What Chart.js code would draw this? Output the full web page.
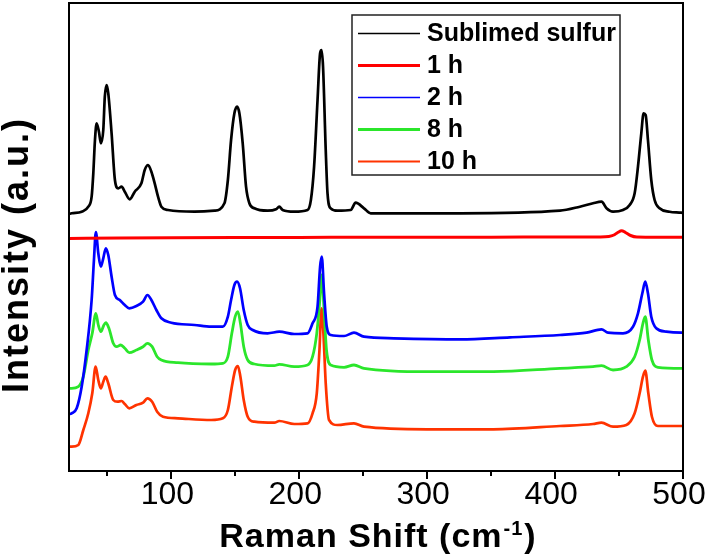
<!DOCTYPE html>
<html>
<head>
<meta charset="utf-8">
<script src="https://cdn.jsdelivr.net/npm/chart.js@4"></script>
<style>
html,body{margin:0;padding:0;background:#ffffff;}
#wrap{width:706px;height:556px;position:relative;}
</style>
</head>
<body>
<div id="wrap"><canvas id="c" width="706" height="556"></canvas></div>
<script>
// ---- data ----
const xTickValues = [100, 200, 300, 400, 500];
const xMinorTickValues = [50, 150, 250, 350, 450];
const xTitleText = 'Raman Shift (cm';
const xTitleSup = '-1';
const xTitleClose = ')';
const yTitleText = 'Intensity (a.u.)';
const seriesNames = ['Sublimed sulfur', '1 h', '2 h', '8 h', '10 h'];

const sulfur = [[20,259],[22.1,259.7],[29.9,261.3],[35.1,266.3],[37.7,276.3],[39.0,299.7],[40.3,333],[41.6,349.7],[43.4,341.3],[44.9,329.7],[46.8,343],[48.0,376.3],[49.4,388],[50.7,379.7],[53.3,339.7],[55.9,293],[58.5,284.7],[61.1,286.3],[63.6,281.3],[67.5,273.7],[71.4,281.3],[76.6,289.7],[79.2,303],[81.8,308],[84.4,301.3],[87.0,289.7],[89.6,276.3],[92.2,266.3],[97.4,263],[118.2,261.3],[133.7,262.3],[141.5,269.7],[144.2,293],[146.7,333],[149.3,359.7],[151.4,366.3],[153.2,359.7],[155.8,329.7],[158.4,286.3],[161.0,269.7],[164.9,264.7],[175.3,262.3],[181.8,263.7],[184.4,266.3],[187.0,263],[196.1,261.3],[206.5,263],[209.1,273],[211.6,306.3],[214.3,373],[216.3,419.7],[217.4,423],[218.6,406.3],[220.7,323],[222.1,279.7],[224.6,264.7],[229.8,262.3],[240.2,263],[244.1,270.3],[250.6,264.7],[255.8,259.7],[325.9,259.7],[403.8,262.3],[419.4,266.3],[429.7,269.7],[436.3,271.3],[440.2,264.7],[445.3,261.3],[453.1,263],[458.3,268],[462.2,279.7],[464.8,306.3],[467.4,339.7],[469.2,359.7],[470.8,358],[472.6,333],[475.2,293],[477.8,273],[481.7,264.7],[489.5,261.3],[498.6,260.3],[500,260]];

const oneHour = [[20,234.5],[60,235],[100,235.3],[150,235.5],[200,235.6],[250,235.7],[300,235.8],[350,235.8],[400,236],[435,236.1],[442,236.5],[446,238],[449,240.5],[452,242.3],[455,240.5],[459,237.5],[464,236],[480,235.8],[500,235.8]];

const twoHours = [[20,59],[22.1,59.7],[26.0,64.7],[29.9,86.3],[33.8,123],[37.7,173],[39.5,213],[41.0,241],[42.9,219.7],[44.9,206.3],[46.8,214.7],[48.8,224.7],[50.7,218],[53.3,196.3],[55.9,178],[59.7,173],[63.6,168],[67.1,164.7],[72.7,167],[77.9,171.3],[81.3,178],[84.4,173],[88.3,163],[92.2,154.7],[100,150.3],[118.2,148],[131.2,146.3],[140.3,146.3],[144.2,156.3],[146.7,173],[149.3,188],[151.4,191.3],[153.7,184.7],[156.6,163],[159.7,148],[163.6,143],[175.3,139.7],[184.4,141.3],[196.1,139],[206.5,139.7],[210.4,149.7],[214.3,166.3],[216.3,206.3],[217.6,216.3],[219.4,179.7],[221.5,146.3],[224.6,138],[235.0,137],[242.8,140.3],[250.6,136.3],[274.0,134.7],[325.9,133.7],[364.8,135.7],[403.8,138],[424.6,140.3],[436.3,143.7],[441.4,140.3],[453.1,139.7],[460.9,146.3],[464.8,159.7],[468.2,179.7],[470.5,191.3],[472.6,179.7],[475.2,156.3],[479.1,144.7],[486.9,141.3],[498.6,140.3],[500,140.3]];

const eightHours = [[20,84.7],[22.1,84.7],[27.3,86.3],[31.2,96.3],[35.1,123],[38.2,139.7],[41.0,159.7],[42.9,148],[44.9,141.3],[47.3,148],[48.8,150.3],[51.2,144.7],[54.6,129.7],[57.2,126.3],[60.5,128],[63.6,124.7],[67.1,120.3],[72.7,123],[77.9,126.3],[81.3,129.7],[85.0,126.3],[88.9,116.3],[92.2,113],[105.2,110.3],[131.2,109],[140.3,109.7],[144.2,116.3],[147.3,139.7],[149.9,156.3],[152.0,161.3],[154.0,149.7],[156.6,126.3],[159.7,113],[164.9,109],[180.5,107.3],[184.4,108.7],[196.1,106.3],[206.5,108],[210.4,116.3],[213.7,139.7],[216.1,173],[217.6,198],[219.4,163],[221.3,123],[224.6,108],[235.0,105.7],[242.8,108],[250.6,104.7],[299.9,101.3],[351.8,101.3],[403.8,104.7],[429.7,106.3],[436.3,107.3],[445.3,103],[455.7,106.3],[462.2,116.3],[466.1,133],[468.7,149.7],[470.5,156.3],[472.9,133],[475.7,113],[480.4,105.7],[498.6,104.7],[500,104.7]];

const tenHours = [[20,26.3],[22.1,26.3],[27.3,28],[31.2,43],[35.1,59.7],[38.2,79.7],[40.8,106.3],[42.9,93],[44.9,84.7],[46.8,91.3],[48.6,96.3],[50.7,89.7],[54.6,73],[57.9,71.3],[61.1,72],[63.6,69],[67.1,64.7],[72.7,68],[77.9,70.3],[81.3,74.7],[85.0,71.3],[88.9,61.3],[93.5,56.3],[105.2,54.7],[131.2,53],[140.3,54.7],[144.2,63],[147.3,86.3],[149.9,103],[152.0,107],[154.0,96.3],[156.6,73],[159.7,56.3],[164.9,51.3],[180.5,50.3],[184.4,52],[196.1,49],[206.5,49.7],[210.4,59.7],[213.7,79.7],[215.8,123],[217.4,164.7],[218.9,139.7],[220.7,89.7],[223.3,53],[229.8,48],[242.8,49.7],[250.6,46.3],[299.9,43.7],[351.8,43.7],[403.8,47],[429.7,49],[436.3,50.3],[445.3,46.3],[455.7,48],[462.2,59.7],[466.1,79.7],[468.7,96.3],[470.5,102.3],[472.9,79.7],[475.7,56.3],[480.4,47],[498.6,47],[500,47]];

// ---- styles ----
const allSeries = [sulfur, oneHour, twoHours, eightHours, tenHours];
const seriesColors = ['#000000', '#FF0000', '#0000FF', '#2BE62B', '#FF3300'];
const seriesWidths = [2.7, 3, 2.7, 2.8, 2.7];
const legendWidths = [1.5, 3, 1.5, 3, 2];
const FONT = '"Liberation Sans", Arial, Helvetica, sans-serif';

const framePlugin = {
  id: 'frame',
  afterDatasetsDraw(chart) {
    const {ctx, chartArea: a, scales: {x}} = chart;
    ctx.save();
    ctx.strokeStyle = '#000';
    ctx.lineWidth = 2;
    ctx.strokeRect(a.left, a.top, a.right - a.left, a.bottom - a.top);
    ctx.lineWidth = 2;
    ctx.beginPath();
    xTickValues.forEach(v => {
      const px = Math.round(x.getPixelForValue(v));
      ctx.moveTo(px, a.bottom); ctx.lineTo(px, a.bottom + 8);
    });
    xMinorTickValues.forEach(v => {
      const px = Math.round(x.getPixelForValue(v));
      ctx.moveTo(px, a.bottom); ctx.lineTo(px, a.bottom + 5);
    });
    ctx.stroke();
    ctx.restore();
  },
  afterDraw(chart) {
    const {ctx, chartArea: a} = chart;
    // legend box
    ctx.save();
    const bx = 352, by = 15, bw = 268, bh = 160;
    ctx.fillStyle = '#fff';
    ctx.fillRect(bx, by, bw, bh);
    ctx.strokeStyle = '#222';
    ctx.lineWidth = 1.5;
    ctx.strokeRect(bx, by, bw, bh);
    ctx.font = 'bold 25px ' + FONT;
    ctx.textBaseline = 'middle';
    ctx.textAlign = 'left';
    chart.data.datasets.forEach((ds, i) => {
      const yy = 33.5 + 32 * i;
      ctx.strokeStyle = ds.borderColor;
      ctx.lineWidth = legendWidths[i];
      ctx.beginPath(); ctx.moveTo(358, yy); ctx.lineTo(420, yy); ctx.stroke();
      ctx.fillStyle = '#000';
      ctx.fillText(ds.label, 427, yy + 1);
    });
    ctx.restore();

    // x title with superscript
    ctx.save();
    ctx.fillStyle = '#000';
    ctx.textBaseline = 'alphabetic';
    ctx.textAlign = 'left';
    const bigFont = 'bold 34px ' + FONT;
    const supFont = 'bold 20px ' + FONT;
    try { ctx.letterSpacing = '1px'; } catch (e) {}
    ctx.font = bigFont;
    const w1 = ctx.measureText(xTitleText).width;
    const w3 = ctx.measureText(xTitleClose).width;
    ctx.font = supFont;
    const w2 = ctx.measureText(xTitleSup).width;
    const cx = (a.left + a.right) / 2 + 1;
    let sx = cx - (w1 + w2 + w3) / 2;
    ctx.font = bigFont;
    ctx.fillText(xTitleText, sx, 547);
    ctx.font = supFont;
    ctx.fillText(xTitleSup, sx + w1 + 1, 535);
    ctx.font = bigFont;
    ctx.fillText(xTitleClose, sx + w1 + w2 + 2, 547);
    ctx.restore();

    // y title
    ctx.save();
    ctx.fillStyle = '#000';
    try { ctx.letterSpacing = '2px'; } catch (e) {}
    ctx.font = 'bold 36px ' + FONT;
    ctx.textAlign = 'center';
    ctx.textBaseline = 'alphabetic';
    ctx.translate(28, 255);
    ctx.rotate(-Math.PI / 2);
    ctx.fillText(chart.options.scales.y.title.text, 0, 0);
    ctx.restore();
  }
};

const chart = new Chart(document.getElementById('c').getContext('2d'), {
  type: 'line',
  data: {
    datasets: allSeries.map((pts, i) => ({
      label: seriesNames[i],
      data: pts.map(p => ({x: p[0], y: p[1]})),
      borderColor: seriesColors[i],
      backgroundColor: seriesColors[i],
      borderWidth: seriesWidths[i],
      pointRadius: 0,
      fill: false,
      cubicInterpolationMode: 'monotone',
      borderJoinStyle: 'round'
    }))
  },
  options: {
    responsive: false,
    animation: false,
    devicePixelRatio: 1,
    layout: {padding: {left: 0, right: 23, top: 3, bottom: 0}},
    plugins: {legend: {display: false}, tooltip: {enabled: false}},
    scales: {
      x: {
        type: 'linear', min: 20, max: 500,
        afterBuildTicks: s => { s.ticks = xTickValues.map(v => ({value: v})); },
        afterFit: s => { s.height = 85; s.paddingLeft = 0; s.paddingRight = 0; },
        grid: {display: false, drawTicks: false},
        border: {display: false},
        title: {display: false, text: xTitleText + xTitleSup + xTitleClose},
        ticks: {
          padding: 5, labelOffset: -4, color: '#000', maxRotation: 0, autoSkip: false,
          font: {family: FONT, size: 32}
        }
      },
      y: {
        type: 'linear', min: 2, max: 470,
        ticks: {display: false},
        grid: {display: false},
        border: {display: false},
        title: {display: false, text: yTitleText},
        afterFit: s => { s.width = 69; s.paddingTop = 0; s.paddingBottom = 0; }
      }
    }
  },
  plugins: [framePlugin]
});
</script>
</body>
</html>
